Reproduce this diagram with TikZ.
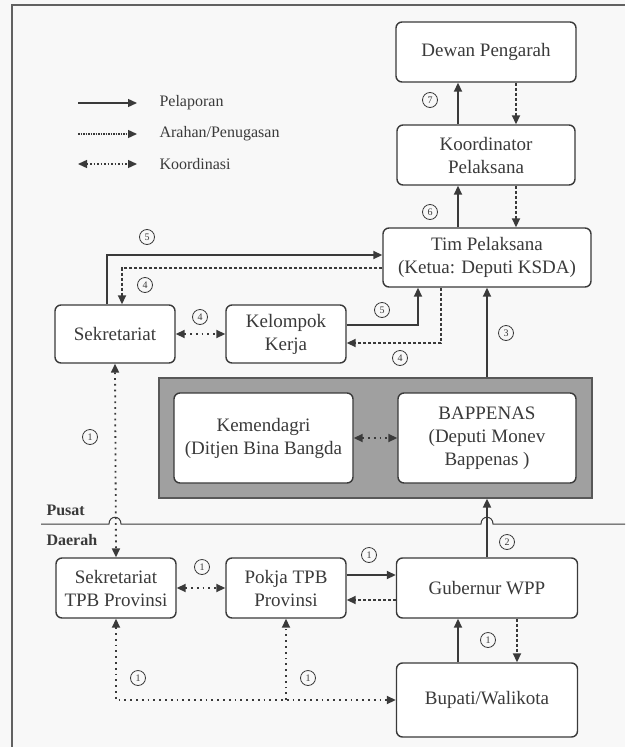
\documentclass[tikz,border=0pt]{standalone}
\usepackage{fontspec}
\setmainfont{Liberation Serif}
\usetikzlibrary{arrows.meta}
\definecolor{ink}{HTML}{3A3A3A}
\definecolor{panel}{HTML}{A0A0A0}
\definecolor{paper}{HTML}{F8F8F8}
\tikzset{
  tri/.tip={Triangle[length=9pt,width=8pt]},
  box/.style={draw=ink,line width=1.4pt,rounded corners=6pt,fill=white,align=center,
    text=ink,font=\fontsize{19}{23}\selectfont,inner sep=2pt},
  num/.style={draw=ink,circle,line width=0.8pt,minimum size=15pt,inner sep=0pt,
    text=ink,font=\fontsize{10}{10}\selectfont},
  legtext/.style={anchor=west,text=ink,font=\fontsize{16}{18}\selectfont},
  region/.style={anchor=west,text=ink,font=\fontsize{16}{18}\selectfont\bfseries},
  lapor/.style={draw=ink,line width=1.8pt,-tri},
  arahan/.style={lapor,dash pattern=on 3pt off 2pt},
  koor/.style={draw=ink,line width=1.8pt,dash pattern=on 1.8pt off 4pt,tri-tri},
  koorend/.style={koor,-tri},
}

\begin{document}
\begin{tikzpicture}[x=1pt,y=-1pt]
    \useasboundingbox (0,0) rectangle (625,747);
    \fill[paper] (0,0) rectangle (625,747);
    \draw[ink!80,line width=1.2pt] (12,747) -- (12,5) -- (625,5);

    % legend
    \coordinate (la1) at (78,103);  \coordinate (lb1) at (137,103);
    \coordinate (la2) at (78,134);  \coordinate (lb2) at (137,134);
    \coordinate (la3) at (78,164);  \coordinate (lb3) at (137,164);
    \draw[lapor,line width=1.4pt] (la1) -- (lb1);
    \draw[arahan,line width=1.4pt,dash pattern=on 1.5pt off 1pt] (la2) -- (lb2);
    \draw[koor,line width=1.4pt,dash pattern=on 1.5pt off 2pt] (la3) -- (lb3);
    \node[legtext] (t1) at (156,103) {Pelaporan};
    \node[legtext] (t2) at (156,134) {Arahan/Penugasan};
    \node[legtext] (t3) at (156,164) {Koordinasi};

    % pusat
    \node[box,minimum width=180pt,minimum height=60pt] (dewan) at (486,52) {Dewan Pengarah};
    \node[box,minimum width=178pt,minimum height=60pt] (koord) at (486,155) {Koordinator\\Pelaksana};
    \node[box,minimum width=208pt,minimum height=59pt] (tim) at (487,257.5) {Tim Pelaksana\\(Ketua: Deputi KSDA)};
    \node[box,minimum width=120pt,minimum height=58pt] (sekr) at (115,334) {Sekretariat};
    \node[box,minimum width=120pt,minimum height=58pt] (kel) at (286,334) {Kelompok\\Kerja};
    \node[draw=ink!85,fill=panel,line width=1.2pt,minimum width=433pt,minimum height=120pt,inner sep=0pt] (grey) at (375.5,438) {};
    \node[box,minimum width=179pt,minimum height=90pt] (kemen) at (263.5,438) {Kemendagri\\(Ditjen Bina Bangda};
    \node[box,minimum width=178pt,minimum height=90pt] (bapp) at (487,438) {BAPPENAS\\(Deputi Monev\\Bappenas )};

    % garis pusat / daerah
    \draw[ink,line width=1pt] (41,524) -- (109,524) .. controls (109,515) and (121,515) .. (121,524)
      -- (481,524) .. controls (481,515) and (493,515) .. (493,524) -- (625,524);
    \node[region] (pusat) at (43,510) {Pusat};
    \node[region] (daerah) at (43,540) {Daerah};

    % daerah
    \node[box,minimum width=120pt,minimum height=60pt] (sekrprov) at (116,588) {Sekretariat\\TPB Provinsi};
    \node[box,minimum width=120pt,minimum height=60pt] (pokja) at (286,588) {Pokja TPB\\Provinsi};
    \node[box,minimum width=181pt,minimum height=60pt] (gub) at (487,588) {Gubernur WPP};
    \node[box,minimum width=181pt,minimum height=74pt] (bup) at (487,700) {Bupati/Walikota};

    % alur
    \draw[lapor] ([xshift=-28pt]koord.north) -- ([xshift=-28pt]dewan.south);
    \draw[arahan] ([xshift=30pt]dewan.south) -- ([xshift=30pt]koord.north);
    \draw[lapor] ([xshift=-29pt]tim.north) -- ([xshift=-28pt]koord.south);
    \draw[arahan] ([xshift=30pt]koord.south) -- ([xshift=29pt]tim.north);
    \draw[lapor] ([xshift=-8pt]sekr.north) |- ([yshift=2.5pt]tim.west);
    \draw[arahan] ([yshift=-10.5pt]tim.west) -| ([xshift=7pt]sekr.north);
    \draw[koor] (sekr.east) -- (kel.west);
    \draw[lapor] ([yshift=9pt]kel.east) -| ([xshift=-69pt]tim.south);
    \draw[arahan] ([xshift=-46pt]tim.south) |- ([yshift=-9pt]kel.east);
    \draw[lapor] (grey.north -| bapp.north) -- (tim.south);
    \draw[koor] (kemen.east) -- (bapp.west);
    \draw[lapor] (gub.north) -- (grey.south -| gub.north);
    \draw[koor] (sekr.south) -- (sekrprov.north);
    \draw[koor] (sekrprov.east) -- (pokja.west);
    \draw[lapor] ([yshift=13pt]pokja.east) -- ([yshift=13pt]gub.west);
    \draw[arahan] ([yshift=-12pt]gub.west) -- ([yshift=-12pt]pokja.east);
    \draw[lapor] ([xshift=-29pt]bup.north) -- ([xshift=-29pt]gub.south);
    \draw[arahan] ([xshift=30pt]gub.south) -- ([xshift=30pt]bup.north);
    \draw[koor] (sekrprov.south) |- (bup.west);
    \draw[koorend] (pokja.south |- bup.west) -- (pokja.south);

    % nomor
    \node[num] (n7) at (430,100) {7};
    \node[num] (n6) at (430,212) {6};
    \node[num] (n5a) at (147,237) {5};
    \node[num] (n4a) at (145,285) {4};
    \node[num] (n4b) at (200,317) {4};
    \node[num] (n5b) at (382,310) {5};
    \node[num] (n4c) at (400,358) {4};
    \node[num] (n3) at (506,333) {3};
    \node[num] (n1a) at (90,437) {1};
    \node[num] (n2) at (507,542) {2};
    \node[num] (n1b) at (202,567) {1};
    \node[num] (n1c) at (369,555) {1};
    \node[num] (n1d) at (488,640) {1};
    \node[num] (n1e) at (138,678) {1};
    \node[num] (n1f) at (308,678) {1};
\end{tikzpicture}
\end{document}
